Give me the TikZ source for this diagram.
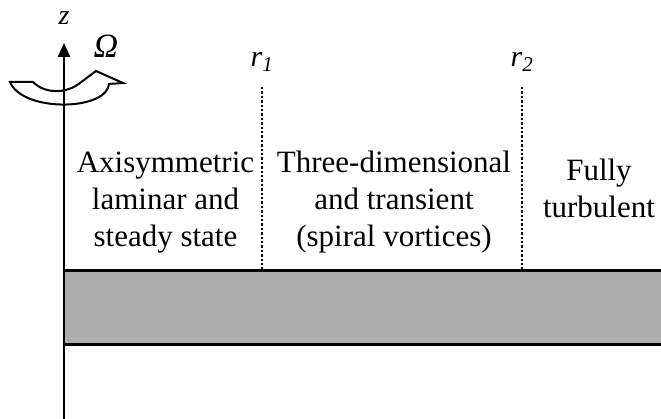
\documentclass[tikz,border=0pt]{standalone}
\usepackage{fontspec}
\setmainfont{Liberation Serif}
\usetikzlibrary{arrows.meta}

\begin{document}
\begin{tikzpicture}[x=1pt,y=1pt,>={Triangle[length=14pt,width=12pt]},node distance=25pt,
    region/.style={align=center,anchor=base,inner sep=0pt,font=\fontsize{31}{37}\selectfont},
    rline/.style={dotted,line width=2.4pt},
    rlabel/.style={font=\fontsize{30}{34}\selectfont\itshape},
    sym/.style={font=\fontsize{28}{32}\selectfont\itshape}]
      \useasboundingbox (0,0) rectangle (661,419);

      % rotating disk
      \fill[black!32] (64,74) rectangle (672,148);
      \draw[line width=3pt] (64,148) -- (672,148);
      \draw[line width=3pt] (64,74) -- (672,74);

      % axis and rotation
      \coordinate (o) at (64,0);
      \coordinate (ztip) at (64,376);
      \draw[line width=2.4pt,->] (o) -- (ztip);
      \node[sym] (z) [above of=ztip] {z};
      \node[sym,font=\fontsize{34}{38}\selectfont\itshape] (omega) at (106,373) {Ω};
      \draw[line width=2pt,line join=miter]
        (10,337) -- (33,337) .. controls (45,325) and (66,325) .. (80,336)
        -- (84,339) -- (96,348) -- (123,336) -- (109,335) -- (108,331)
        .. controls (98,308) and (22,308) .. (10,337) -- cycle;

      % transition radii
      \coordinate (r1top) at (262,332);
      \coordinate (r1bot) at (262,148);
      \coordinate (r2top) at (522,332);
      \coordinate (r2bot) at (522,148);
      \draw[rline] (r1top) -- (r1bot);
      \draw[rline] (r2top) -- (r2bot);
      \node[rlabel] (r1) [above of=r1top] {r\textsubscript{1}};
      \node[rlabel] (r2) [above of=r2top] {r\textsubscript{2}};

      % flow regimes
      \node[region] (inner) at (165.5,172) {Axisymmetric\\laminar and\\steady state};
      \node[region] (middle) at (394,172) {Three-dimensional\\and transient\\(spiral vortices)};
      \node[region] (outer) at (599,201) {Fully\\turbulent};
\end{tikzpicture}
\end{document}
